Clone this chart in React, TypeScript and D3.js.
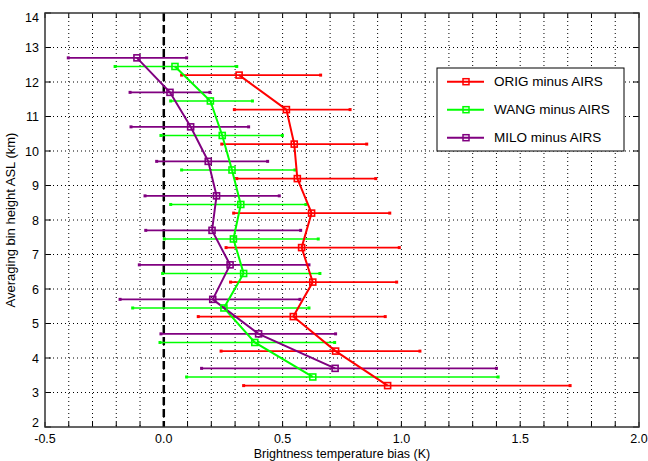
import React from "react";
import * as d3 from "d3";

const origHeights = [12.2, 11.2, 10.2, 9.2, 8.2, 7.2, 6.2, 5.2, 4.2, 3.2];
const origMean = [0.317, 0.516, 0.549, 0.562, 0.622, 0.58, 0.627, 0.545, 0.723, 0.942];
const origLo = [0.075, 0.297, 0.244, 0.307, 0.294, 0.262, 0.281, 0.145, 0.241, 0.336];
const origHi = [0.66, 0.784, 0.854, 0.892, 0.951, 0.991, 0.98, 0.932, 1.078, 1.71];

const wangHeights = [12.45, 11.45, 10.45, 9.45, 8.45, 7.45, 6.45, 5.45, 4.45, 3.45];
const wangMean = [0.047, 0.196, 0.246, 0.287, 0.324, 0.293, 0.336, 0.253, 0.383, 0.627];
const wangLo = [-0.205, 0.029, -0.012, 0.075, 0.029, 0.002, -0.005, -0.131, -0.016, 0.096];
const wangHi = [0.307, 0.373, 0.499, 0.552, 0.598, 0.65, 0.657, 0.611, 0.719, 1.407];

const miloHeights = [12.7, 11.7, 10.7, 9.7, 8.7, 7.7, 6.7, 5.7, 4.7, 3.7];
const miloMean = [-0.113, 0.026, 0.113, 0.187, 0.222, 0.203, 0.279, 0.206, 0.399, 0.721];
const miloLo = [-0.402, -0.142, -0.138, -0.03, -0.079, -0.076, -0.103, -0.184, -0.012, 0.159];
const miloHi = [0.096, 0.194, 0.357, 0.437, 0.486, 0.576, 0.611, 0.573, 0.723, 1.4];

const seriesNames = ["ORIG minus AIRS", "WANG minus AIRS", "MILO minus AIRS"];
const seriesColors = ["#ff0000", "#00ff00", "#800080"];

const xTickLabels = ["-0.5", "0.0", "0.5", "1.0", "1.5", "2.0"];
const xTickValues = [-0.5, 0, 0.5, 1.0, 1.5, 2.0];
const yTickValues = [2, 3, 4, 5, 6, 7, 8, 9, 10, 11, 12, 13, 14];

const W = 648;
const H = 461;
const M = { left: 45, right: 639, top: 13, bottom: 427 };
const FONT = "'Liberation Sans', Arial, Helvetica, sans-serif";

export default function App() {
  const x = d3.scaleLinear().domain([-0.5, 2.0]).range([M.left, M.right]);
  const y = d3.scaleLinear().domain([2, 14]).range([M.bottom, M.top]);

  const series = [
    { h: origHeights, m: origMean, lo: origLo, hi: origHi },
    { h: wangHeights, m: wangMean, lo: wangLo, hi: wangHi },
    { h: miloHeights, m: miloMean, lo: miloLo, hi: miloHi },
  ];

  const minorX = d3.range(-5, 21).map((i) => i / 10);
  const line = d3
    .line<[number, number]>()
    .x((d) => x(d[0]))
    .y((d) => y(d[1]));

  const ms = 6;
  const legX = 437;
  const legY = 68;
  const legW = 187;
  const legH = 83;

  const yLabelShift = (i: number) =>
    i === 0 ? -4.5 : i === yTickValues.length - 1 ? 4 : 0;

  return (
    <svg
      width={W}
      height={H}
      style={{ position: "absolute", left: 0, top: 0, background: "#fff" }}
      fontFamily={FONT}
    >
      <rect x={0} y={0} width={W} height={H} fill="#fff" />
      {/* grid */}
      {minorX.map((v, i) =>
        i === 0 || i === minorX.length - 1 ? null : (
          <line
            key={"gx" + i}
            x1={x(v)}
            x2={x(v)}
            y1={M.top}
            y2={M.bottom}
            stroke="#000"
            strokeWidth={1}
            strokeDasharray="1,3"
          />
        )
      )}
      {yTickValues.map((v, i) =>
        i === 0 || i === yTickValues.length - 1 ? null : (
          <line
            key={"gy" + i}
            x1={M.left}
            x2={M.right}
            y1={y(v)}
            y2={y(v)}
            stroke="#000"
            strokeWidth={1}
            strokeDasharray="1,3"
          />
        )
      )}
      {/* ticks */}
      {minorX.map((v, i) => (
        <g key={"tx" + i}>
          <line x1={x(v)} x2={x(v)} y1={M.bottom} y2={M.bottom - 5} stroke="#000" strokeWidth={1} />
          <line x1={x(v)} x2={x(v)} y1={M.top} y2={M.top + 5} stroke="#000" strokeWidth={1} />
        </g>
      ))}
      {yTickValues.map((v, i) => (
        <g key={"ty" + i}>
          <line x1={M.left} x2={M.left + 6} y1={y(v)} y2={y(v)} stroke="#000" strokeWidth={1} />
          <line x1={M.right} x2={M.right - 6} y1={y(v)} y2={y(v)} stroke="#000" strokeWidth={1} />
        </g>
      ))}
      {/* zero dashed line */}
      <line
        x1={x(0)}
        x2={x(0)}
        y1={M.top}
        y2={M.bottom}
        stroke="#000"
        strokeWidth={2.5}
        strokeDasharray="8,4"
      />
      {/* error bars */}
      {series.map((s, si) =>
        s.h.map((h, i) => (
          <g key={"eb" + si + "-" + i}>
            <line
              x1={x(s.lo[i])}
              x2={x(s.hi[i])}
              y1={y(h)}
              y2={y(h)}
              stroke={seriesColors[si]}
              strokeWidth={1.6}
            />
            <rect x={x(s.lo[i]) - 1.5} y={y(h) - 1.5} width={3} height={3} fill={seriesColors[si]} />
            <rect x={x(s.hi[i]) - 1.5} y={y(h) - 1.5} width={3} height={3} fill={seriesColors[si]} />
          </g>
        ))
      )}
      {/* lines */}
      {series.map((s, si) => (
        <path
          key={"ln" + si}
          d={line(s.h.map((h, i) => [s.m[i], h] as [number, number])) || ""}
          fill="none"
          stroke={seriesColors[si]}
          strokeWidth={2}
        />
      ))}
      {/* markers */}
      {series.map((s, si) =>
        s.h.map((h, i) => (
          <g key={"mk" + si + "-" + i}>
            <rect
              x={x(s.m[i]) - ms / 2}
              y={y(h) - ms / 2}
              width={ms}
              height={ms}
              fill="none"
              stroke={seriesColors[si]}
              strokeWidth={1.6}
            />
          </g>
        ))
      )}
      {/* frame */}
      <rect
        x={M.left}
        y={M.top}
        width={M.right - M.left}
        height={M.bottom - M.top}
        fill="none"
        stroke="#333"
        strokeWidth={1.5}
      />
      {/* tick labels */}
      {xTickValues.map((v, i) => (
        <text key={"xl" + i} x={x(v)} y={443} textAnchor="middle" fontSize={12.5} fill="#000">
          {xTickLabels[i]}
        </text>
      ))}
      {yTickValues.map((v, i) => (
        <text
          key={"yl" + i}
          x={39}
          y={y(v) + 4.5 + yLabelShift(i)}
          textAnchor="end"
          fontSize={12.5}
          fill="#000"
        >
          {v}
        </text>
      ))}
      <text x={(M.left + M.right) / 2} y={458} textAnchor="middle" fontSize={12.5} fill="#000">
        Brightness temperature bias (K)
      </text>
      <text
        transform={`translate(15,${(M.top + M.bottom) / 2}) rotate(-90)`}
        textAnchor="middle"
        fontSize={13}
        fill="#000"
      >
        Averaging bin height ASL (km)
      </text>
      {/* legend */}
      <rect x={legX} y={legY} width={legW} height={legH} fill="#fff" stroke="#000" strokeWidth={1} />
      {seriesNames.map((n, i) => {
        const ly = 81.7 + i * 28;
        return (
          <g key={"lg" + i}>
            <line x1={447} x2={484} y1={ly} y2={ly} stroke={seriesColors[i]} strokeWidth={2} />
            <rect x={466 - 3} y={ly - 3} width={6} height={6} fill="none" stroke={seriesColors[i]} strokeWidth={1.5} />
            <text x={494} y={ly + 4.5} fontSize={13.5} fill="#000">
              {n}
            </text>
          </g>
        );
      })}
    </svg>
  );
}
